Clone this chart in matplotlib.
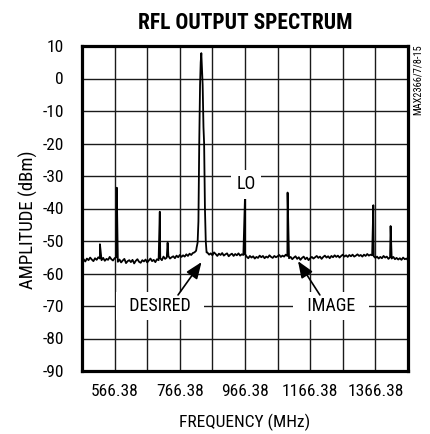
import numpy as np
import matplotlib
matplotlib.use("Agg")
import matplotlib.pyplot as plt
from matplotlib import font_manager

# --- DATA ---
F_START = 466.38
F_STOP = 1466.38

NOISE_DBM = [
    -56.0, -55.6, -56.3, -55.4, -55.9, -55.1, -55.7, -56.2, -55.3, -55.8, -55.0,
    -55.4,
    -55.9, -55.2, -56.1, -55.5, -55.8, -54.9, -55.6, -56.0, -55.3,
    -55.0,
    -56.4, -55.7, -56.6, -56.0, -55.5, -56.8, -56.2, -55.9, -56.5, -55.8,
    -56.9, -56.1, -55.6, -56.4, -56.7, -55.9, -56.3, -55.7, -56.6, -56.0,
    -55.4, -56.2, -55.8, -56.5, -55.6, -55.9,
    -55.3, -55.9, -54.8, -55.5, -55.1, -54.6, -55.4, -55.0, -54.7, -55.3,
    -54.5, -55.0, -54.3, -54.9, -54.4, -54.8, -54.1, -54.6, -53.9, -54.3,
    -53.7,
    -53.5, -53.0,
    -52.5, -52.0, -52.0, -52.0, -52.0, -53.0,
    -53.6, -54.2, -53.8, -54.4, -53.5, -54.0, -54.6, -53.9, -54.3, -53.7,
    -54.5, -54.1, -53.8, -54.7, -54.2, -53.9, -54.6, -54.0, -54.4, -53.8,
    -54.5, -54.1, -54.3, -54.0,
    -54.8, -55.3, -54.6, -55.1, -54.7, -55.4, -54.9, -55.2, -54.5, -55.0,
    -54.6, -55.3, -54.8, -55.1, -54.4, -54.9, -55.2, -54.6, -55.0, -54.7,
    -54.3, -54.9, -54.5, -54.8, -54.2,
    -54.6, -55.3, -54.9, -55.6, -55.1, -54.7, -55.5, -55.0, -55.8, -55.2,
    -54.8, -55.6, -55.1, -55.9, -55.3, -54.9, -55.4, -55.0, -54.6, -55.2,
    -54.8, -55.5, -54.9, -54.5, -55.1, -54.7, -55.3, -54.6, -55.0, -54.4,
    -54.9, -54.5, -55.1, -54.6, -54.2, -54.8, -54.4, -54.9, -54.3, -54.7,
    -54.2, -54.8, -54.5, -54.1, -54.6, -54.3, -54.8, -54.2, -54.6, -54.0,
    -54.5, -54.2, -54.4,
    -54.7, -55.2, -54.8, -55.4, -54.9, -55.3, -54.6, -55.1, -54.8, -55.5,
    -55.0, -55.4, -54.9, -55.6, -55.2, -55.7, -55.3, -55.8, -55.1, -55.6,
    -55.4, -55.9,
]

MAIN_F = [818.0, 821.0, 823.5, 826.0, 828.5, 830.5, 832.4, 834.0, 836.5,
          839.0, 841.0, 843.5, 846.0, 848.5]
MAIN_DBM = [-52.0, -50.5, -44.0, -20.0, -2.0, 5.0, 7.8, 4.0, -2.0,
            -15.0, -20.0, -40.0, -50.0, -53.5]

SPUR_F = [521.38, 573.0, 705.0, 729.0, 966.38, 1097.0, 1360.0, 1413.0]
SPUR_DBM = [-51.0, -33.6, -41.0, -50.5, -36.2, -35.1, -39.0, -45.4]

X_TICKS = [566.38, 766.38, 966.38, 1166.38, 1366.38]
Y_TICKS = [-90, -80, -70, -60, -50, -40, -30, -20, -10, 0, 10]


def pick_narrow():
    # look for a condensed sans; fall back to Liberation Sans
    tries = [('Liberation Sans Narrow', 'normal'), ('Roboto Condensed', 'normal'),
             ('Open Sans Condensed', 'normal'), ('Noto Sans', 'condensed'),
             ('Open Sans', 'condensed'), ('Roboto', 'condensed'),
             ('DejaVu Sans', 'condensed')]
    for fam, st in tries:
        try:
            path = font_manager.findfont(font_manager.FontProperties(family=fam, stretch=st),
                                         fallback_to_default=False)
        except Exception:
            continue
        name = path.lower()
        if 'narrow' in name or 'condensed' in name:
            return fam, st, True
    return 'Liberation Sans', 'normal', False


FAM, STRETCH, NARROW = pick_narrow()
plt.rcParams['font.family'] = [FAM, 'DejaVu Sans']
plt.rcParams['font.stretch'] = STRETCH
plt.rcParams['axes.unicode_minus'] = False
k = 1.0 if NARROW else 0.85

noise_f = np.linspace(F_START, F_STOP, len(NOISE_DBM))
noise_dbm = np.array(NOISE_DBM)
keep = (noise_f < MAIN_F[0]) | (noise_f > MAIN_F[-1])
trace_f = np.concatenate([noise_f[keep], MAIN_F, SPUR_F])
trace_dbm = np.concatenate([noise_dbm[keep], MAIN_DBM, SPUR_DBM])
order = np.argsort(trace_f)
trace_f = trace_f[order]
trace_dbm = trace_dbm[order]

fig = plt.figure(figsize=(4.31, 4.34), dpi=100)
ax = fig.add_axes([82 / 431, 1 - 371 / 434, 326 / 431, 325 / 434])

ax.plot(trace_f, trace_dbm, color='black', lw=1.3, zorder=3)

ax.set_xlim(F_START, F_STOP)
ax.set_ylim(-90, 10)
ax.set_xticks(X_TICKS)
ax.set_xticks(np.arange(F_START, F_STOP + 1, 100), minor=True)
ax.set_yticks(Y_TICKS)
ax.set_xticklabels([f"{v:.2f}" for v in X_TICKS])
ax.grid(True, which='both', color='#1a1a1a', lw=1.0, zorder=1)
ax.set_axisbelow(True)
ax.tick_params(which='both', length=0, labelsize=12.5 * k)
ax.tick_params(axis='y', pad=13)
ax.tick_params(axis='x', pad=9)
for s in ax.spines.values():
    s.set_linewidth(2.3)
    s.set_zorder(5)

ax.set_xlabel("FREQUENCY (MHz)", fontsize=12.5 * k, labelpad=11)
ax.set_ylabel("AMPLITUDE (dBm)", fontsize=13.5 * k)
ax.yaxis.set_label_coords(-0.134, 0.466)
ax.set_title("RFL OUTPUT SPECTRUM", fontsize=15.5 * k, fontweight='bold', pad=12)

box = dict(boxstyle='square,pad=0.3', fc='white', ec='none')
ax.text(969.5, -32.5, "LO", fontsize=13 * k, ha='center', va='center', bbox=box, zorder=4)
ax.text(705.6, -70, "  DESIRED  ", fontsize=13 * k, ha='center', va='center', bbox=box, zorder=4)
ax.text(1230, -70, "  IMAGE  ", fontsize=13 * k, ha='center', va='center', bbox=box, zorder=4)

arrow = dict(arrowstyle='-|>,head_length=1.0,head_width=0.4', color='black', lw=1.2,
             shrinkA=0, shrinkB=0)
ax.annotate("", xy=(833, -56.5), xytext=(761, -66.6), arrowprops=arrow, zorder=4)
ax.annotate("", xy=(1129, -56.2), xytext=(1196, -66.6), arrowprops=arrow, zorder=4)

fig.text(417.5 / 431, 1 - 80 / 434, "MAX2366/7/8-15", rotation=90, fontsize=7.5 * k,
         ha='center', va='center')

fig.savefig("out.png", dpi=100)
